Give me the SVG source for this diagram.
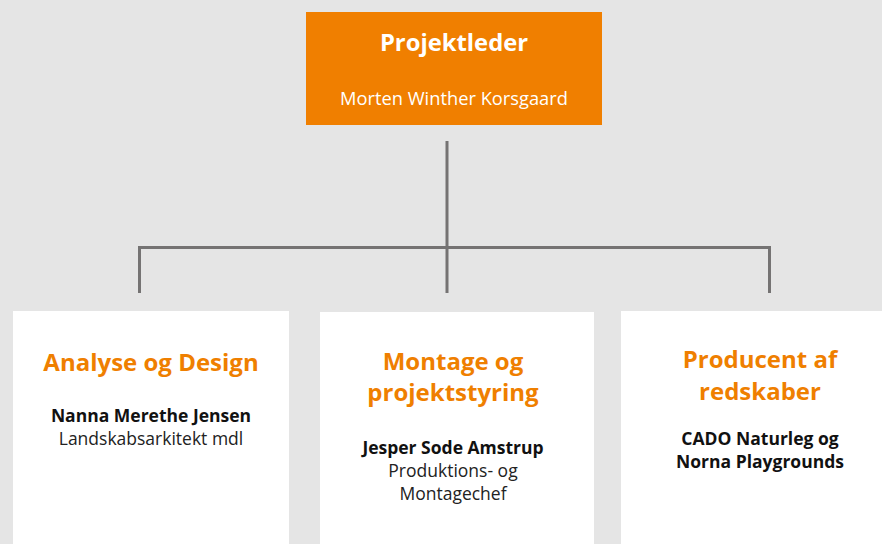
<svg xmlns="http://www.w3.org/2000/svg" width="882" height="544" viewBox="0 0 882 544">
<style>
text{font-family:"Open Sans",Lato,"Liberation Sans",sans-serif;text-anchor:middle}
.h{font-size:24px;font-weight:bold;fill:#EF7F00}
.b{font-size:17.5px;font-weight:bold;fill:#111}
.r{font-size:17.5px;fill:#222}
.box{fill:#fff}
.ln{stroke:#757373;stroke-width:3;fill:none}
</style>
<rect width="882" height="544" fill="#E5E5E5"/>
<g id="connectors">
<path class="ln" d="M447,141V293"/>
<path class="ln" d="M139.5,293V247.5H769.5V293"/>
</g>
<g id="projektleder">
<rect x="306" y="12" width="296" height="113" fill="#F07F00"/>
<text x="454" y="51" style="font-size:23.8px;font-weight:bold;fill:#fff">Projektleder</text>
<text x="454" y="105" style="font-size:18.3px;fill:#fff">Morten Winther Korsgaard</text>
</g>
<g id="analyse">
<rect class="box" x="13" y="311" width="276" height="233"/>
<text class="h" x="151" y="371">Analyse og Design</text>
<text class="b" x="151" y="421.5">Nanna Merethe Jensen</text>
<text class="r" x="151" y="444.5">Landskabsarkitekt mdl</text>
</g>
<g id="montage">
<rect class="box" x="320" y="312" width="274" height="232"/>
<text class="h" x="453" y="370">Montage og</text>
<text class="h" x="453" y="401">projektstyring</text>
<text class="b" x="453" y="454">Jesper Sode Amstrup</text>
<text class="r" x="453" y="477">Produktions- og</text>
<text class="r" x="453" y="500">Montagechef</text>
</g>
<g id="producent">
<rect class="box" x="621" y="311" width="261" height="233"/>
<text class="h" x="760" y="368">Producent af</text>
<text class="h" x="760" y="400">redskaber</text>
<text class="b" x="760" y="444.5">CADO Naturleg og</text>
<text class="b" x="760" y="467.5">Norna Playgrounds</text>
</g>
</svg>
